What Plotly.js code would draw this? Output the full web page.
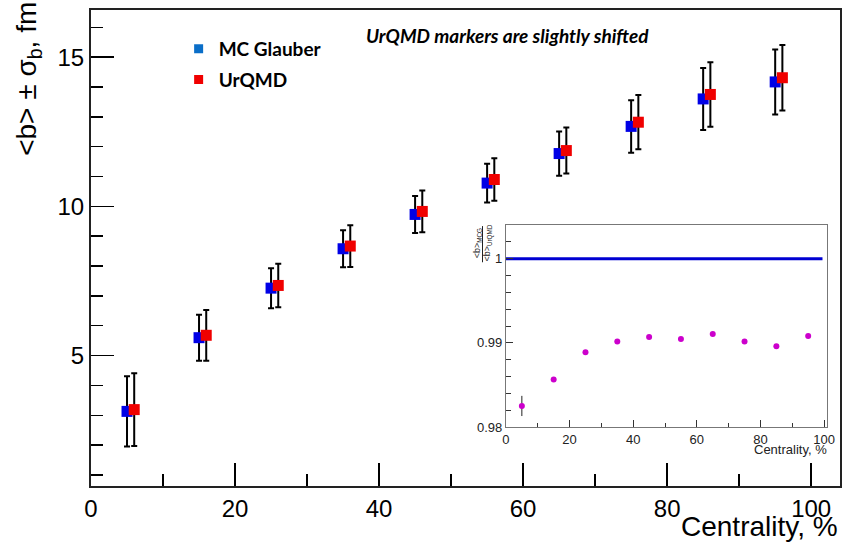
<!DOCTYPE html>
<html>
<head>
<meta charset="utf-8">
<script src="https://cdn.plot.ly/plotly-3.0.1.min.js"></script>
<style>html,body{margin:0;padding:0;background:#fff;}#chart{width:843px;height:543px;}</style>
</head>
<body>
<div id="chart"></div>
<script>
// Main panel data
var centMCG = [5, 15, 25, 35, 45, 55, 65, 75, 85, 95];
var centUrQMD = [6, 16, 26, 36, 46, 56, 66, 76, 86, 96];
var bMCG = [3.13, 5.60, 7.26, 8.58, 9.73, 10.78, 11.77, 12.68, 13.60, 14.17];
var sigMCG = [1.18, 0.77, 0.67, 0.62, 0.62, 0.65, 0.74, 0.88, 1.04, 1.09];
var bUrQMD = [3.19, 5.68, 7.35, 8.67, 9.83, 10.90, 11.87, 12.82, 13.75, 14.31];
var sigUrQMD = [1.22, 0.85, 0.73, 0.70, 0.70, 0.71, 0.77, 0.91, 1.08, 1.10];

// Inset data (ratio)
var centRatio = [5, 15, 25, 35, 45, 55, 65, 75, 85, 95];
var ratio = [0.9825, 0.98565, 0.9889, 0.99015, 0.99071, 0.99047, 0.99106, 0.99015, 0.98961, 0.99082];
var ratioErr = [0.0012, 0.00028, 0.0002, 0.00012, 0.0001, 0.0001, 0.0001, 0.0001, 0.0001, 0.0001];
var unityX = [0, 99.5];
var unityY = [1, 1];

var mainFont = 'Liberation Sans, Arial, sans-serif';

var traces = [
  {x: centMCG, y: bMCG, type: 'scatter', mode: 'markers', showlegend: false,
   marker: {symbol: 'square', size: 11, color: 'rgb(0,0,230)'},
   error_y: {type: 'data', array: sigMCG, visible: true, color: '#000', thickness: 2, width: 3}},
  {x: centUrQMD, y: bUrQMD, type: 'scatter', mode: 'markers', showlegend: false,
   marker: {symbol: 'square', size: 11, color: 'rgb(240,0,0)'},
   error_y: {type: 'data', array: sigUrQMD, visible: true, color: '#000', thickness: 2, width: 3}},
  {x: [null], y: [null], type: 'scatter', mode: 'markers', name: 'MC Glauber', legendgroup: 'a', showlegend: true,
   marker: {symbol: 'square', size: 9, color: 'rgb(10,110,200)'}},
  {x: [null], y: [null], type: 'scatter', mode: 'markers', name: 'UrQMD', legendgroup: 'b', showlegend: true,
   marker: {symbol: 'square', size: 9, color: 'rgb(240,0,0)'}},
  {x: unityX, y: unityY, xaxis: 'x2', yaxis: 'y2', type: 'scatter', mode: 'lines', showlegend: false,
   line: {color: 'rgb(0,0,210)', width: 3}},
  {x: centRatio, y: ratio, xaxis: 'x2', yaxis: 'y2', type: 'scatter', mode: 'markers', showlegend: false,
   marker: {symbol: 'circle', size: 6, color: 'rgb(204,0,204)'},
   error_y: {type: 'data', array: ratioErr, visible: true, color: '#222', thickness: 1, width: 0}}
];

var layout = {
  width: 843, height: 543,
  margin: {l: 91, r: 3, t: 10, b: 57},
  paper_bgcolor: '#fff', plot_bgcolor: '#fff',
  showlegend: true,
  legend: {x: 0.117, y: 0.958, xanchor: 'left', yanchor: 'top', bgcolor: 'rgba(0,0,0,0)',
           traceorder: 'grouped', tracegroupgap: 3,
           font: {family: 'Lato, sans-serif', size: 19, color: '#000', weight: 'bold'}},
  xaxis: {domain: [0, 1], range: [0, 104], showgrid: false, zeroline: false,
          showline: true, mirror: true, linecolor: '#222', linewidth: 2,
          ticks: 'inside', ticklen: 23, tickwidth: 1.5, tickcolor: '#000',
          tick0: 0, dtick: 20,
          minor: {ticks: 'inside', dtick: 10, ticklen: 12, tickwidth: 1.5, tickcolor: '#000', showgrid: false},
          tickfont: {family: mainFont, size: 24, color: '#000'}},
  yaxis: {domain: [0, 1], range: [0.63, 16.58], showgrid: false, zeroline: false,
          showline: true, mirror: true, linecolor: '#222', linewidth: 2,
          ticks: 'inside', ticklen: 23, tickwidth: 1.5, tickcolor: '#000',
          tick0: 0, dtick: 5,
          minor: {ticks: 'inside', dtick: 1, ticklen: 12, tickwidth: 1.5, tickcolor: '#000', showgrid: false},
          tickfont: {family: mainFont, size: 24, color: '#000'}},
  xaxis2: {domain: [0.554, 0.983], anchor: 'y2', range: [0, 101], showgrid: false, zeroline: false,
           showline: true, mirror: true, linecolor: '#777', linewidth: 1,
           ticks: 'inside', ticklen: 7, tickwidth: 1, tickcolor: '#333',
           tick0: 0, dtick: 20,
           minor: {ticks: 'inside', dtick: 10, ticklen: 4, tickwidth: 1, tickcolor: '#333', showgrid: false},
           tickfont: {family: mainFont, size: 13, color: '#222'}},
  yaxis2: {domain: [0.124, 0.548], anchor: 'x2', range: [0.98, 1.004], showgrid: false, zeroline: false,
           showline: true, mirror: true, linecolor: '#777', linewidth: 1,
           ticks: 'inside', ticklen: 7, tickwidth: 1, tickcolor: '#333',
           tickvals: [0.98, 0.99, 1], ticktext: ['0.98', '0.99', '1'],
           minor: {ticks: 'inside', dtick: 0.002, tick0: 0.98, ticklen: 5, tickwidth: 1, tickcolor: '#333', showgrid: false},
           tickfont: {family: mainFont, size: 13, color: '#222'}},
  annotations: [
    {xref: 'paper', yref: 'paper', x: -0.0844, y: 0.855, xanchor: 'center', yanchor: 'middle',
     textangle: -90, showarrow: false,
     text: '&lt;b&gt; ± σ<sub>b</sub>, fm', font: {family: mainFont, size: 28, color: '#000'}},
    {xref: 'paper', yref: 'paper', x: 1, y: -0.086, xanchor: 'right', yanchor: 'middle',
     showarrow: false, text: 'Centrality, %', font: {family: mainFont, size: 28, color: '#000'}},
    {xref: 'paper', yref: 'paper', x: 0.365, y: 0.947, xanchor: 'left', yanchor: 'middle',
     showarrow: false, text: '<b><i>UrQMD markers are slightly shifted</i></b>',
     font: {family: 'Lato, sans-serif', size: 19, color: '#000'}},
    {xref: 'paper', yref: 'paper', x: 0.985, y: 0.077, xanchor: 'right', yanchor: 'middle',
     showarrow: false, text: 'Centrality, %', font: {family: mainFont, size: 13, color: '#222'}},
    {xref: 'paper', yref: 'paper', x: 0.5155, y: 0.51, xanchor: 'center', yanchor: 'middle',
     textangle: -90, showarrow: false, text: '&lt;b&gt;<sub>MCG</sub>',
     font: {family: mainFont, size: 9, color: '#222'}},
    {xref: 'paper', yref: 'paper', x: 0.5305, y: 0.51, xanchor: 'center', yanchor: 'middle',
     textangle: -90, showarrow: false, text: '&lt;b&gt;<sub>UrQMD</sub>',
     font: {family: mainFont, size: 9, color: '#222'}}
  ],
  shapes: [
    {type: 'line', xref: 'paper', yref: 'paper', x0: 0.5227, x1: 0.5227, y0: 0.470, y1: 0.546,
     line: {color: '#222', width: 1}}
  ]
};

Plotly.newPlot('chart', traces, layout, {displayModeBar: false, staticPlot: true});
</script>
</body>
</html>
